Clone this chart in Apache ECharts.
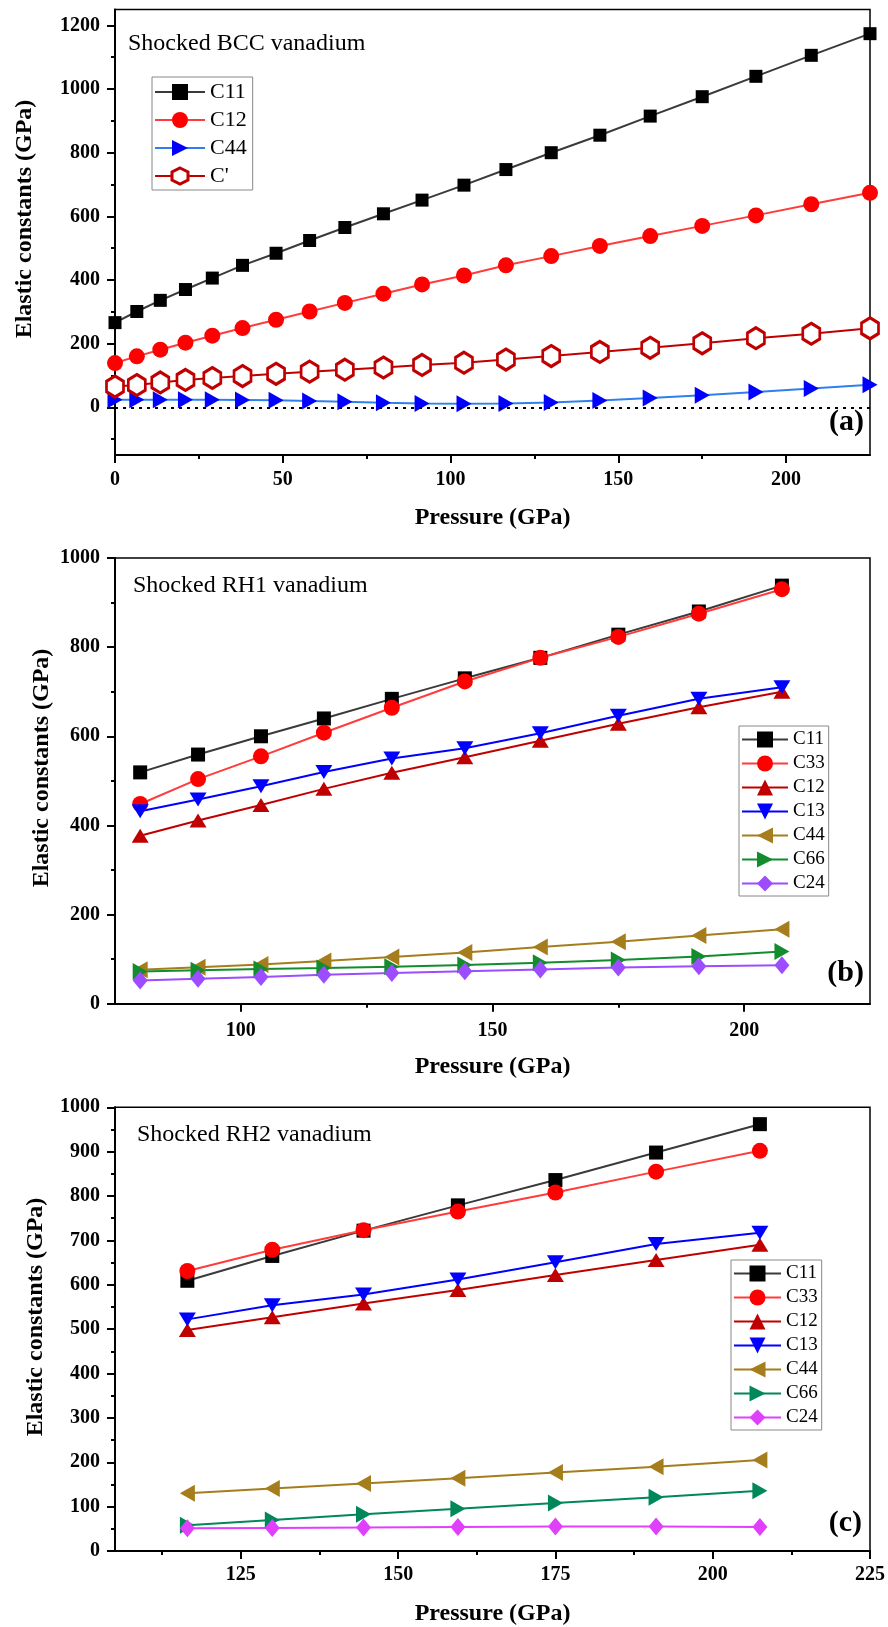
<!DOCTYPE html>
<html>
<head>
<meta charset="utf-8">
<title>Elastic constants of shocked vanadium</title>
<script src="https://cdn.jsdelivr.net/npm/echarts@6/dist/echarts.min.js"></script>
<style>
  body { margin: 0; background: #fff; }
  #chart { width: 888px; height: 1627px; }
</style>
</head>
<body>
<div id="chart"></div>
<script>
// ---- data ----
// (a) BCC
var pressA = [0, 6.5, 13.5, 21, 29, 38, 48, 58, 68.5, 80, 91.5, 104, 116.5, 130, 144.5, 159.5, 175, 191, 207.5, 225];
var aC11 = [266, 301, 336, 370, 406, 446, 484, 524, 565, 608, 651, 698, 747, 800, 855, 915, 976, 1040, 1106, 1174];
var aC12 = [139, 160, 181, 203, 225, 249, 275, 301, 328, 357, 386, 414, 446, 475, 507, 538, 570, 603, 638, 674];
var aC44 = [24, 24, 24, 24, 24, 23, 22, 20, 17, 14, 12, 11, 12, 15, 21, 29, 38, 48, 59, 71];
var aCp = [65, 70, 78, 86, 92, 98, 105, 112, 118, 125, 133, 140, 150, 161, 174, 187, 201, 217, 231, 248];

// (b) RH1
var pressB = [80, 91.5, 104, 116.5, 130, 144.5, 159.5, 175, 191, 207.5];
var bC11 = [519, 559, 600, 640, 684, 730, 776, 828, 880, 938];
var bC33 = [448, 504, 555, 608, 664, 723, 776, 823, 875, 930];
var bC12 = [377, 411, 446, 482, 518, 553, 590, 628, 665, 700];
var bC13 = [432, 458, 488, 520, 550, 573, 607, 646, 684, 710];
var bC44 = [76, 82, 88, 96, 105, 115, 127, 139, 153, 167];
var bC66 = [72, 75, 78, 80, 83, 87, 92, 98, 106, 117];
var bC24 = [52, 56, 60, 65, 69, 73, 77, 81, 84, 86];

// (c) RH2
var pressC = [116.5, 130, 144.5, 159.5, 175, 191, 207.5];
var cC11 = [609, 665, 722, 779, 836, 898, 962];
var cC33 = [631, 679, 723, 765, 808, 855, 902];
var cC12 = [498, 527, 558, 588, 622, 656, 690];
var cC13 = [522, 554, 578, 612, 651, 692, 717];
var cC44 = [130, 141, 152, 164, 177, 190, 205];
var cC66 = [58, 70, 83, 95, 108, 121, 136];
var cC24 = [51, 52, 53, 54, 55, 55, 54];

// tick labels
var aXTicks = [0, 50, 100, 150, 200];
var aYTicks = [0, 200, 400, 600, 800, 1000, 1200];
var bXTicks = [100, 150, 200];
var bYTicks = [0, 200, 400, 600, 800, 1000];
var cXTicks = [125, 150, 175, 200, 225];
var cYTicks = [0, 100, 200, 300, 400, 500, 600, 700, 800, 900, 1000];

var serif = '"Liberation Serif", "Times New Roman", serif';

// symbols
var hexagon = 'path://M0,-10L8.66,-5L8.66,5L0,10L-8.66,5L-8.66,-5Z';
var triRight = 'path://M0,0L10,5L0,10Z';
var triLeft = 'path://M10,0L0,5L10,10Z';
var triDown = 'path://M0,0L10,0L5,10Z';

function steps(from, to, step) {
    var out = [];
    for (var v = from; v <= to + 1e-9; v += step) out.push(v);
    return out;
}

var grids = [
    { left: 115, right: 18, top: 9.5, height: 445.5 },
    { left: 115, right: 18, top: 558, height: 445.7 },
    { left: 115, right: 18, top: 1107.3, height: 446 }
];
grids.forEach(function (g) {
    g.show = true;
    g.borderColor = '#000';
    g.borderWidth = 1.5;
    g.backgroundColor = 'transparent';
});

var xAxes = [], yAxes = [];

function axisPair(list, gi, dim, min, max, labels, minors, margin, name) {
    var pos = dim === 'x' ? 'bottom' : 'left';
    list.push({
        type: 'value', gridIndex: gi, position: pos, min: min, max: max,
        splitLine: { show: false },
        axisLine: { onZero: false, lineStyle: { color: '#000', width: 2 } },
        axisTick: { length: 8, customValues: labels, lineStyle: { color: '#000', width: 2 } },
        axisLabel: {
            customValues: labels, margin: margin, color: '#000',
            fontFamily: serif, fontWeight: 'bold', fontSize: 20,
            formatter: function (v) { return String(v); }
        },
        name: name || '',
        nameLocation: 'middle',
        nameGap: 51,
        nameTextStyle: { fontFamily: serif, fontWeight: 'bold', fontSize: 24, color: '#000' }
    });
    list.push({
        type: 'value', gridIndex: gi, position: pos, min: min, max: max,
        splitLine: { show: false },
        axisLine: { show: false, onZero: false },
        axisTick: { length: 4, customValues: minors, lineStyle: { color: '#000', width: 2 } },
        axisLabel: { show: false }
    });
}

axisPair(xAxes, 0, 'x', 0, 225, aXTicks, steps(25, 175, 50), 15, 'Pressure (GPa)');
axisPair(yAxes, 0, 'y', -150, 1250, aYTicks, steps(-100, 1100, 200), 15);
axisPair(xAxes, 1, 'x', 75, 225, bXTicks, [125, 175], 17, 'Pressure (GPa)');
axisPair(yAxes, 1, 'y', 0, 1000, bYTicks, steps(100, 900, 200), 15);
axisPair(xAxes, 2, 'x', 105, 225, cXTicks, steps(112.5, 212.5, 25), 14, 'Pressure (GPa)');
axisPair(yAxes, 2, 'y', 0, 1000, cYTicks, steps(50, 950, 100), 15);

function line(name, gi, xs, ys, color, lineColor, symbol, size, extra) {
    var s = {
        name: name,
        type: 'line',
        xAxisIndex: gi * 2,
        yAxisIndex: gi * 2,
        data: xs.map(function (x, i) { return [x, ys[i]]; }),
        symbol: symbol,
        symbolSize: size,
        showAllSymbol: true,
        clip: false,
        itemStyle: { color: color, opacity: 1 },
        lineStyle: { color: lineColor, width: 2 },
        emphasis: { disabled: true },
        animation: false
    };
    if (extra) Object.keys(extra).forEach(function (k) { s[k] = extra[k]; });
    return s;
}

var series = [
    line('a:C11', 0, pressA, aC11, '#000', '#3a3a3a', 'rect', 13),
    line('a:C12', 0, pressA, aC12, '#ff0000', '#ff3b3b', 'circle', 16),
    line('a:C44', 0, pressA, aC44, '#0000ff', '#2f80ee', triRight, [15, 17], {
        markLine: {
            silent: true, symbol: 'none', label: { show: false },
            lineStyle: { color: '#000', width: 2, type: [3, 5] },
            data: [{ yAxis: 0 }]
        }
    }),
    line('a:C\'', 0, pressA, aCp, '#ffffff', '#c00000', hexagon, [17, 21], {
        itemStyle: { color: '#ffffff', borderColor: '#c00000', borderWidth: 3, opacity: 1 }
    }),

    line('b:C11', 1, pressB, bC11, '#000', '#3a3a3a', 'rect', 14),
    line('b:C33', 1, pressB, bC33, '#ff0000', '#ff3b3b', 'circle', 16),
    line('b:C12', 1, pressB, bC12, '#c00000', '#c00000', 'triangle', [17, 14]),
    line('b:C13', 1, pressB, bC13, '#0000ff', '#0000ff', triDown, [17, 14]),
    line('b:C44', 1, pressB, bC44, '#a67d1c', '#a67d1c', triLeft, [15, 17]),
    line('b:C66', 1, pressB, bC66, '#128c2c', '#128c2c', triRight, [15, 17]),
    line('b:C24', 1, pressB, bC24, '#9b4dff', '#9b4dff', 'diamond', [15, 18]),

    line('c:C11', 2, pressC, cC11, '#000', '#3a3a3a', 'rect', 14),
    line('c:C33', 2, pressC, cC33, '#ff0000', '#ff3b3b', 'circle', 16),
    line('c:C12', 2, pressC, cC12, '#c00000', '#c00000', 'triangle', [17, 14]),
    line('c:C13', 2, pressC, cC13, '#0000ff', '#0000ff', triDown, [17, 14]),
    line('c:C44', 2, pressC, cC44, '#a67d1c', '#a67d1c', triLeft, [15, 17]),
    line('c:C66', 2, pressC, cC66, '#00875a', '#00875a', triRight, [15, 17]),
    line('c:C24', 2, pressC, cC24, '#e040fb', '#e040fb', 'diamond', [15, 18])
];

function legendFor(prefix, left, top, w, h, gap, fs, pad) {
    return {
        orient: 'vertical',
        left: left, top: top,
        data: series.filter(function (s) { return s.name.indexOf(prefix) === 0; })
            .map(function (s) {
                if (s.name === 'a:C\'') {
                    return { name: s.name, itemStyle: { borderWidth: 3, borderColor: '#c00000', color: '#fff' } };
                }
                return s.name;
            }),
        formatter: function (n) { return n.slice(2); },
        itemWidth: w, itemHeight: h, itemGap: gap,
        padding: pad,
        borderColor: '#888', borderWidth: 1,
        selectedMode: false,
        textStyle: { fontFamily: serif, fontSize: fs, color: '#000' }
    };
}

function vText(x, y, text) {
    return {
        type: 'text', x: x, y: y, rotation: Math.PI / 2,
        style: {
            text: text, fill: '#000', font: 'bold 24px ' + serif,
            align: 'center', verticalAlign: 'middle',
            textAlign: 'center', textVerticalAlign: 'middle'
        }
    };
}

function hText(x, y, text, font, align) {
    return {
        type: 'text', x: x, y: y,
        style: {
            text: text, fill: '#000', font: font,
            align: align, verticalAlign: 'middle',
            textAlign: align, textVerticalAlign: 'middle'
        }
    };
}

var option = {
    animation: false,
    grid: grids,
    xAxis: xAxes,
    yAxis: yAxes,
    legend: [
        legendFor('a:', 152, 77, 50, 20, 6, 22, [4, 6, 3, 2]),
        legendFor('b:', 739, 726, 46, 20, 5, 19, [4, 4, 3, 2]),
        legendFor('c:', 731, 1260, 47, 20, 5, 19, [4, 4, 3, 2])
    ],
    graphic: [
        vText(25, 219, 'Elastic constants (GPa)'),
        vText(42, 768, 'Elastic constants (GPa)'),
        vText(36, 1317, 'Elastic constants (GPa)'),
        hText(128, 44, 'Shocked BCC vanadium', '24px ' + serif, 'left'),
        hText(133, 586, 'Shocked RH1 vanadium', '24px ' + serif, 'left'),
        hText(137, 1135, 'Shocked RH2 vanadium', '24px ' + serif, 'left'),
        hText(864, 422, '(a)', 'bold 30px ' + serif, 'right'),
        hText(864, 973, '(b)', 'bold 30px ' + serif, 'right'),
        hText(862, 1523, '(c)', 'bold 30px ' + serif, 'right')
    ],
    series: series
};

var chart = echarts.init(document.getElementById('chart'));
chart.setOption(option);
</script>
</body>
</html>
